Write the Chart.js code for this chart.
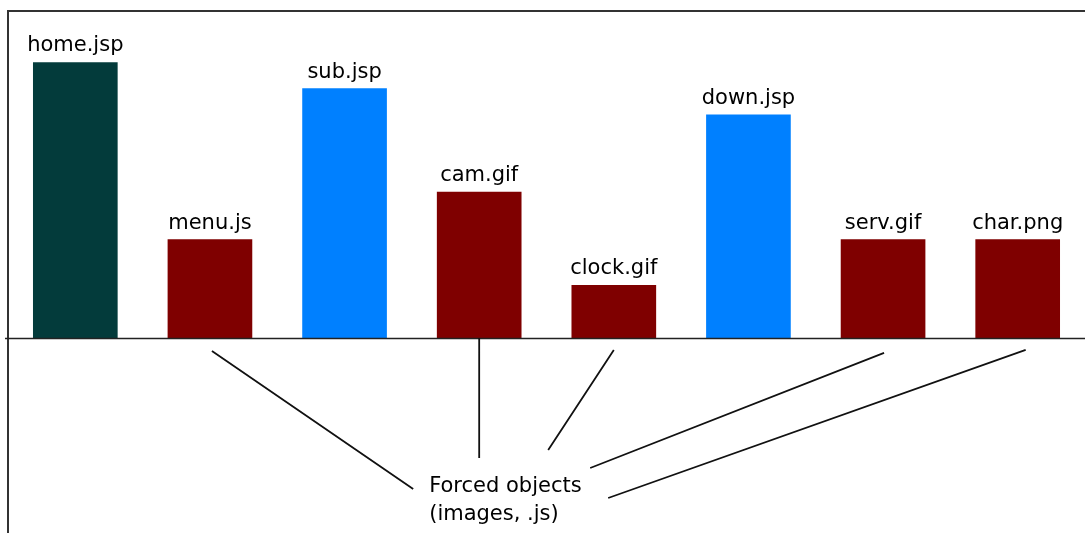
<!DOCTYPE html>
<html>
<head>
<meta charset="utf-8">
<script src="https://cdn.jsdelivr.net/npm/chart.js@4/dist/chart.umd.min.js"></script>
<style>
  html, body { margin: 0; padding: 0; background: #fff; }
  #wrap { width: 1085px; height: 533px; }
</style>
</head>
<body>
<div id="wrap"><canvas id="chart" width="1085" height="533"></canvas></div>
<script>
// Data
const files = ['home.jsp', 'menu.js', 'sub.jsp', 'cam.gif', 'clock.gif', 'down.jsp', 'serv.gif', 'char.png'];
const sizes = [84, 30, 76, 44.5, 16, 68, 30, 30];
const kinds = ['home', 'forced', 'page', 'forced', 'forced', 'page', 'forced', 'forced'];
const forcedNote = ['Forced objects', '(images, .js)'];

const kindColors = { home: '#033b3b', page: '#0080ff', forced: '#7f0000' };
const FONT = '21px "DejaVu Sans", sans-serif';

// Frame: top line, left line, zero line
const framePlugin = {
    id: 'frame',
    beforeDatasetsDraw(chart) {
        const { ctx, chartArea } = chart;
        ctx.save();
        ctx.strokeStyle = '#333';
        ctx.lineWidth = 2;
        ctx.beginPath();
        ctx.moveTo(chartArea.left, chartArea.top + 1);
        ctx.lineTo(chartArea.right, chartArea.top + 1);
        ctx.moveTo(chartArea.left, chartArea.top);
        ctx.lineTo(chartArea.left, chartArea.bottom);
        ctx.stroke();
        ctx.restore();
    },
    afterDatasetsDraw(chart) {
        const { ctx, chartArea } = chart;
        const zeroY = Math.round(chart.scales.y.getPixelForValue(0)) + 0.5;
        ctx.save();
        ctx.strokeStyle = '#222';
        ctx.lineWidth = 1.6;
        ctx.beginPath();
        ctx.moveTo(chartArea.left - 3, zeroY);
        ctx.lineTo(chartArea.right, zeroY);
        ctx.stroke();
        ctx.restore();
    }
};

// Bar name labels above each bar
const namePlugin = {
    id: 'names',
    afterDatasetsDraw(chart) {
        const { ctx } = chart;
        const meta = chart.getDatasetMeta(0);
        ctx.save();
        ctx.font = FONT;
        ctx.fillStyle = '#000';
        ctx.textAlign = 'center';
        ctx.textBaseline = 'alphabetic';
        meta.data.forEach((bar, i) => {
            ctx.fillText(files[i], bar.x, bar.y - 11);
        });
        ctx.restore();
    }
};

// Callout lines from the forced objects to the note
const notePlugin = {
    id: 'note',
    afterDraw(chart) {
        const { ctx } = chart;
        const xs = chart.scales.x;
        const zeroY = chart.scales.y.getPixelForValue(0);
        const camX = xs.getPixelForValue(3);
        const tx = camX - 50;
        const ty = 492;
        const segs = [
            [xs.getPixelForValue(1) + 2, zeroY + 13, tx - 16, ty - 3],
            [camX, zeroY, camX, ty - 34],
            [xs.getPixelForValue(4), zeroY + 12, tx + 119, ty - 42],
            [xs.getPixelForValue(6) + 1, zeroY + 15, tx + 161, ty - 24],
            [xs.getPixelForValue(7) + 8, zeroY + 12, tx + 179, ty + 6]
        ];
        ctx.save();
        ctx.strokeStyle = '#111';
        ctx.lineWidth = 1.8;
        ctx.beginPath();
        segs.forEach(s => {
            ctx.moveTo(s[0], s[1]);
            ctx.lineTo(s[2], s[3]);
        });
        ctx.stroke();
        ctx.font = FONT;
        ctx.fillStyle = '#000';
        ctx.textAlign = 'left';
        ctx.textBaseline = 'alphabetic';
        ctx.fillText(forcedNote[0], tx, ty);
        ctx.fillText(forcedNote[1], tx, ty + 28);
        ctx.restore();
    }
};

new Chart(document.getElementById('chart').getContext('2d'), {
    type: 'bar',
    data: {
        labels: files,
        datasets: [{
            data: sizes,
            backgroundColor: kinds.map(k => kindColors[k]),
            borderWidth: 0,
            barThickness: 84
        }]
    },
    options: {
        responsive: false,
        animation: false,
        layout: { padding: { top: 10, left: 8, right: 0, bottom: 0 } },
        plugins: { legend: { display: false }, tooltip: { enabled: false } },
        scales: {
            x: { display: false },
            y: { display: false, min: -59.5, max: 100 }
        }
    },
    plugins: [framePlugin, namePlugin, notePlugin]
});
</script>
</body>
</html>
